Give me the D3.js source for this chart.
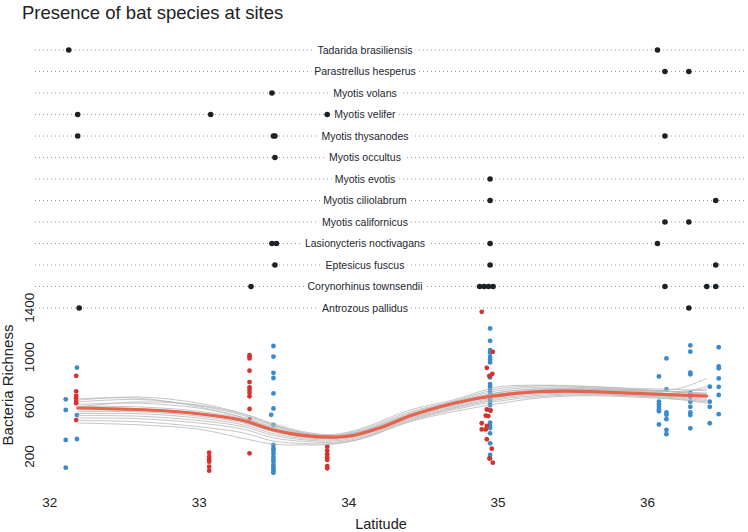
<!DOCTYPE html>
<html><head><meta charset="utf-8">
<script src="https://cdn.jsdelivr.net/npm/d3@7"></script>
<style>body{margin:0;background:#fff}svg{display:block}text{font-family:"Liberation Sans",Arial,Helvetica,sans-serif}</style>
</head><body><svg id="c" width="748" height="532"></svg>
<script>
// ---------- DATA ----------
const species = ["Tadarida brasiliensis","Parastrellus hesperus","Myotis volans","Myotis velifer",
  "Myotis thysanodes","Myotis occultus","Myotis evotis","Myotis ciliolabrum","Myotis californicus",
  "Lasionycteris noctivagans","Eptesicus fuscus","Corynorhinus townsendii","Antrozous pallidus"];
const speciesSites = [
  [32.13, 36.07],
  [36.12, 36.28],
  [33.49],
  [32.19, 33.08, 33.86],
  [32.19, 33.50, 33.51, 36.12],
  [33.51],
  [34.95],
  [34.95, 36.46],
  [36.12, 36.28],
  [33.49, 33.52, 34.95, 36.07],
  [33.51, 34.95, 36.46],
  [33.35, 34.88, 34.91, 34.94, 34.97, 36.12, 36.40, 36.46],
  [32.20, 36.28]
];
const xTicks = [32, 33, 34, 35, 36];
const yTicks = [200, 600, 1000, 1400];

const blueLat = [
  32.11,32.11,32.11,32.11,
  32.185,32.185,32.185,
  33.50,33.50,33.50,33.50,33.50,33.50,33.485,33.50,33.50,33.50,33.50,33.50,33.50,33.50,33.50,33.50,33.50,33.50,33.50,33.50,
  34.95,34.95,34.95,34.95,34.95,34.95,34.95,34.95,34.95,34.95,34.95,34.95,34.95,34.95,34.95,34.95,34.95,34.95,34.95,34.95,34.95,34.95,34.95,34.95,
  36.08,36.08,36.08,36.08,36.08,36.08,36.08,
  36.13,36.13,36.13,36.13,36.13,36.13,36.13,
  36.29,36.29,36.29,36.29,36.29,36.29,36.29,36.29,36.29,36.29,36.29,
  36.42,36.42,36.42,36.42,
  36.48,36.48,36.48,36.48,36.48,36.48,36.48
];
const blueVal = [
  661,575,333,110,
  916,534,341,
  1091,1006,875,833,709,587,536,454,293,266,250,226,198,177,158,131,115,97,77,69,
  1233,1133,1058,1037,1004,982,959,838,784,764,744,722,696,661,642,615,575,472,448,430,387,306,212,185,
  846,642,621,601,581,565,458,
  991,742,555,537,501,414,380,
  1096,1045,877,863,712,682,642,601,555,534,427,
  763,642,601,468,
  1081,927,911,830,762,696,541
];
const redLat = [
  32.18,32.18,32.18,32.18,32.18,32.18,32.18,
  33.07,33.07,33.07,33.07,33.07,33.07,
  33.34,33.34,33.34,33.34,33.34,33.34,33.34,33.34,33.34,33.34,33.34,33.34,
  33.86,33.86,33.86,33.86,33.86,33.86,33.86,
  34.894,34.968,34.928,34.965,34.945,34.928,34.953,34.921,34.938,34.894,34.928,34.894,34.921,34.928,34.961,34.945,34.968
];
const redVal = [
  851,726,688,669,647,629,494,
  231,198,177,158,118,86,
  1018,1004,991,892,800,758,736,714,685,583,500,226,
  279,247,218,194,172,123,105,
  1367,1044,915,867,850,579,569,530,526,468,447,418,418,339,263,184,150
];

const meanFitLat = [32.19,32.67,33.01,33.28,33.50,33.68,33.88,34.01,34.21,34.43,34.66,34.88,35.24,35.47,35.69,36.02,36.40];
const meanFit    = [591,575,543,494,414,373,357,365,430,534,615,672,720,728,720,704,688];

const bootLat = [32.19,32.6,33.0,33.3,33.5,33.7,33.9,34.1,34.4,34.7,35.0,35.3,35.6,35.9,36.2,36.4];
const bootFits = [
  [655,680,630,545,465,400,378,430,570,655,760,775,765,745,720,700],
  [640,660,610,530,450,392,370,420,555,645,745,770,765,750,740,730],
  [620,630,590,515,440,385,365,410,545,640,730,760,755,740,720,705],
  [605,600,565,505,430,380,362,405,535,630,715,745,745,732,725,745],
  [590,585,550,495,420,372,358,398,528,625,705,735,740,730,745,830],
  [575,570,540,485,410,365,350,390,520,615,695,728,732,720,705,690],
  [560,560,525,470,400,355,345,385,512,610,688,722,728,715,698,680],
  [545,545,510,455,385,345,335,375,505,600,678,715,720,708,690,672],
  [530,525,490,440,370,335,325,365,498,592,668,705,712,700,680,660],
  [510,505,470,420,350,322,315,355,490,585,658,695,705,692,672,650],
  [490,480,440,390,325,305,305,348,482,575,645,685,698,688,665,640],
  [470,455,420,345,300,293,300,345,475,560,625,675,690,680,660,630],
  [665,670,600,510,420,365,345,385,520,620,700,735,738,728,712,765],
  [600,640,615,540,455,390,368,405,530,630,715,748,750,738,722,712]
];

// ---------- CHART ----------
const svg = d3.select("#c");
const x = d3.scaleLinear().domain([32, 36]).range([49.3, 647]);
const y = d3.scaleLinear().domain([200, 1400]).range([456.5, 307.7]);
const row = d3.scalePoint().domain(species).range([50, 308]);

svg.append("text").attr("x", 22).attr("y", 19).attr("font-size", 18.5)
  .attr("fill", "#222").text("Presence of bat species at sites");

// dot plot rows
const rows = svg.append("g");
species.forEach((s, i) => {
  const g = rows.append("g");
  const yy = row(s);
  g.append("line").attr("x1", 35).attr("x2", 746).attr("y1", yy).attr("y2", yy)
    .attr("stroke", "#9a9a9a").attr("stroke-width", 1).attr("stroke-dasharray", "1,3");
  const t = g.append("text").attr("x", 365).attr("y", yy).attr("dy", "0.35em")
    .attr("text-anchor", "middle").attr("font-size", 10.5).attr("fill", "#1c2630").text(s);
  const bb = t.node().getBBox();
  g.insert("rect", "text").attr("x", bb.x - 3).attr("y", bb.y).attr("width", bb.width + 6)
    .attr("height", bb.height).attr("fill", "#fff");
  g.selectAll("circle").data(speciesSites[i]).join("circle")
    .attr("cx", d => x(d)).attr("cy", yy).attr("r", 2.8).attr("fill", "#1b2126");
});

// axes
const xa = svg.append("g").attr("transform", "translate(0,494)")
  .call(d3.axisBottom(x).tickValues(xTicks).tickSize(0).tickPadding(3).tickFormat(d3.format("d")));
xa.select(".domain").remove();
xa.selectAll("text").attr("font-size", 13.5).attr("fill", "#222")
  .style("font-family", '"Liberation Sans",Arial,sans-serif');

const ya = svg.append("g")
  .call(d3.axisLeft(y).tickValues(yTicks).tickSize(0).tickFormat(d3.format("d")));
ya.select(".domain").remove();
ya.selectAll(".tick").attr("transform", null);
ya.selectAll(".tick text").attr("font-size", 13.5).attr("fill", "#222")
  .style("font-family", '"Liberation Sans",Arial,sans-serif')
  .attr("text-anchor", "middle").attr("x", 0).attr("y", 0).attr("dy", 0)
  .attr("transform", d => `translate(34,${y(d)}) rotate(-90)`);

svg.append("text").attr("transform", "translate(13,385) rotate(-90)").attr("text-anchor", "middle")
  .attr("font-size", 15).attr("fill", "#222").text("Bacteria Richness");
svg.append("text").attr("x", 381).attr("y", 529).attr("text-anchor", "middle")
  .attr("font-size", 14.5).attr("fill", "#222").text("Latitude");

// points
const pts = svg.append("g");
pts.selectAll(".b").data(blueLat).join("circle").attr("class", "b")
  .attr("cx", d => x(d)).attr("cy", (d, i) => y(blueVal[i])).attr("r", 2.4).attr("fill", "#3a8bcb");
pts.selectAll(".r").data(redLat).join("circle").attr("class", "r")
  .attr("cx", d => x(d)).attr("cy", (d, i) => y(redVal[i])).attr("r", 2.4).attr("fill", "#d7312e");

// fits
const line = d3.line().curve(d3.curveCatmullRom.alpha(0.5));
bootFits.forEach(f => {
  svg.append("path").attr("d", line(bootLat.map((l, i) => [x(l), y(f[i])])))
    .attr("fill", "none").attr("stroke", "#b9b9b9").attr("stroke-width", 0.9).attr("opacity", 0.9);
});
svg.append("path").attr("d", line(meanFitLat.map((l, i) => [x(l), y(meanFit[i])])))
  .attr("fill", "none").attr("stroke", "#e8634d").attr("stroke-width", 3.2).attr("stroke-linecap", "round");
</script></body></html>
